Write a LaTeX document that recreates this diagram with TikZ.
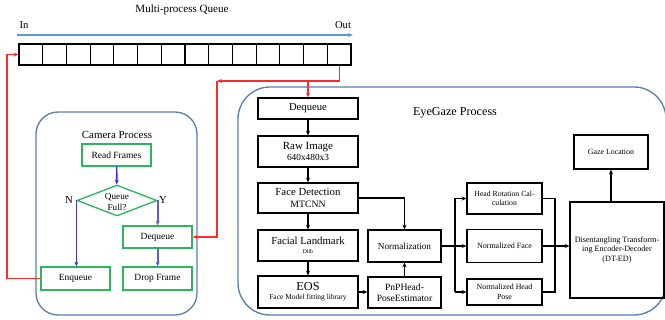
\documentclass[tikz,border=0pt]{standalone}
\usepackage{fontspec}
\setmainfont{Liberation Serif}
\usetikzlibrary{shapes.geometric,arrows.meta}
\definecolor{qblue}{HTML}{5B9BD5}
\definecolor{framec}{HTML}{5A80AE}
\definecolor{grc}{HTML}{2DB55D}
\definecolor{rdc}{HTML}{FF2A2A}
\definecolor{abc}{HTML}{3535D0}
\definecolor{abl}{HTML}{5E5EDC}
\newcommand{\upx}{0.75pt}
\begin{document}
\begin{tikzpicture}[x=0.75pt,y=-0.75pt,
  cell/.style={draw=black, line width=0.9pt, inner sep=0pt, minimum width=23.714*\upx, minimum height=21*\upx},
  frm/.style={draw=framec, line width=1pt, inner sep=0pt, rounded corners=#1},
  gbox/.style={draw=grc, line width=1pt, inner sep=0pt, minimum width=69*\upx, minimum height=22*\upx, font=\fontsize{7.1}{8.5}\selectfont},
  bbox/.style={draw=black, line width=0.9pt, inner sep=0pt, align=center},
  barr/.style={abc, line width=1.2pt, -{Stealth[length=3.5pt,width=3pt]}},
  karr/.style={black, line width=0.9pt, -{Stealth[length=3.5pt,width=3pt]}},
  rarr/.style={rdc, line width=0.9pt, -{Stealth[length=3.5pt,width=3pt]}},
  lbl/.style={inner sep=0pt}
]
\useasboundingbox (0,0) rectangle (665,320);

% ---------- Queue ----------
\node[lbl, font=\fontsize{8.3}{10}\selectfont] (qt) at (182,10) {Multi-process Queue};
\node[lbl, font=\fontsize{8}{10}\selectfont] (qin) at (24,25) {In};
\node[lbl, font=\fontsize{8}{10}\selectfont] (qout) at (343,25) {Out};
\coordinate (qa) at (17,35);
\coordinate (qb) at (353,35);
\draw[qblue, line width=0.9pt, -{Stealth[length=4pt,width=3pt]}] (qa) -- (qb);
\foreach \i in {1,...,14} {
  \node[cell] (q\i) at ({19+(\i-0.5)*23.714},54.5) {};
}

% ---------- Camera Process ----------
\node[frm=22*\upx, minimum width=161*\upx, minimum height=203*\upx] (cam) at (116.5,213.5) {};
\node[lbl, font=\fontsize{8.2}{10}\selectfont] (camt) at (117,135) {Camera Process};
\node[gbox] (rf) at (116.5,155) {Read Frames};
\node[draw=grc, line width=1pt, diamond, inner sep=0pt, minimum width=80*\upx, minimum height=31*\upx] (dia) at (117,200.5) {};
\node[lbl, align=center, font=\fontsize{6.9}{7.6}\selectfont] (diat) at (117,202) {Queue\\Full?};
\node[lbl, font=\fontsize{8}{10}\selectfont] (nn) at (69,200) {N};
\node[lbl, font=\fontsize{8}{10}\selectfont] (yy) at (163,200) {Y};
\node[gbox] (cdq) at (157.5,237) {Dequeue};
\node[gbox, minimum height=23*\upx] (enq) at (75.5,278.5) {Enqueue};
\node[gbox, minimum height=23*\upx] (drop) at (157.5,278.5) {Drop Frame};

\draw[barr] (rf) -- (dia);
\draw[barr] (dia.west) -- (dia.west |- enq.north);
\draw[barr, abl, line width=1.5pt] (dia.east) -- (dia.east |- cdq.north);
\draw[barr, abl, line width=1.5pt] (cdq.south -| dia.east) -- (drop.north -| dia.east);

% ---------- EyeGaze Process ----------
\node[frm=32*\upx, minimum width=428*\upx, minimum height=228*\upx] (eye) at (452,201) {};
\node[lbl, font=\fontsize{9.1}{11}\selectfont] (eyet) at (455,113) {EyeGaze Process};

\node[bbox, minimum width=100*\upx, minimum height=21*\upx, font=\fontsize{8}{9.5}\selectfont] (dq) at (308,108.5) {Dequeue};
\node[bbox, minimum width=100*\upx, minimum height=31*\upx, font=\fontsize{8.2}{9}\selectfont] (raw) at (308,151.5) {Raw Image\\[-0.5pt]{\fontsize{7}{8}\selectfont 640x480x3}};
\node[bbox, minimum width=100*\upx, minimum height=30*\upx, font=\fontsize{8.1}{9.5}\selectfont] (fd) at (308,198) {Face Detection\\[-0.5pt]{\fontsize{7.3}{8}\selectfont MTCNN}};
\node[bbox, minimum width=100*\upx, minimum height=31*\upx, font=\fontsize{8.1}{8}\selectfont] (fl) at (308,245.5) {Facial Landmark\\[-1pt]{\fontsize{4.3}{5}\selectfont Dlib}};
\node[bbox, minimum width=100*\upx, minimum height=32*\upx, font=\fontsize{9.2}{8}\selectfont] (eos) at (308,292) {EOS\\[-1pt]{\fontsize{5.6}{6}\selectfont Face Model fitting library}};
\node[bbox, minimum width=73*\upx, minimum height=32*\upx, font=\fontsize{6.9}{8}\selectfont] (norm) at (404.5,246) {Normalization};
\node[bbox, minimum width=73*\upx, minimum height=31*\upx, font=\fontsize{7.2}{8.6}\selectfont] (pnp) at (404.5,292.5) {PnPHead-\\PoseEstimator};

\node[bbox, minimum width=75*\upx, minimum height=31*\upx, font=\fontsize{5.8}{7.2}\selectfont] (hr) at (504.5,198.5) {Head Rotation Cal-\\culation};
\node[bbox, minimum width=75*\upx, minimum height=33*\upx, font=\fontsize{6}{7.2}\selectfont] (nf) at (504.5,246) {Normalized Face};
\node[bbox, minimum width=75*\upx, minimum height=26*\upx, font=\fontsize{5.9}{7.2}\selectfont] (nhp) at (504.5,292) {Normalized Head\\Pose};
\node[bbox, minimum width=94*\upx, minimum height=96*\upx, font=\fontsize{6.1}{7.4}\selectfont] (dt) at (617,250) {Disentangling Transform-\\ing Encoder-Decoder\\(DT-ED)};
\node[bbox, minimum width=74*\upx, minimum height=34*\upx, font=\fontsize{5.9}{7.2}\selectfont] (gz) at (611,152) {Gaze Location};

\draw[karr] (dq) -- (raw);
\draw[karr] (raw) -- (fd);
\draw[karr] (fd) -- (fl);
\draw[karr] (fl) -- (eos);
\draw[karr] (eos.east) -- (eos.east -| pnp.west);
\draw[karr] (pnp) -- (norm);
\draw[karr] (fd.east) -| (norm.north);

\coordinate (bx) at (455,246);
\coordinate (mx) at (555,246);
\draw[karr] (norm.east) -- (nf.west);
\draw[line width=0.9pt] (bx |- hr.west) -- (bx |- nhp.west);
\draw[karr] (bx |- hr.west) -- (hr.west);
\draw[karr] (bx |- nhp.west) -- (nhp.west);
\draw[line width=0.9pt] (hr.east) -- (hr.east -| mx) -- (nhp.east -| mx) -- (nhp.east);
\draw[karr] (nf.east) -- (nf.east -| dt.west);
\draw[karr] (gz.south |- dt.north) -- (gz.south);

% ---------- red connections ----------
\coordinate (rc) at (217,81);
\coordinate (lc) at (7,278.5);
\draw[rarr] (q14.south) |- (rc);
\draw[rarr] (rc) |- (cdq.east);
\draw[rarr] (dq.north |- rc) -- (dq.north);
\draw[rarr] (enq.west) -- (lc) |- (q1.west);
\end{tikzpicture}
\end{document}
